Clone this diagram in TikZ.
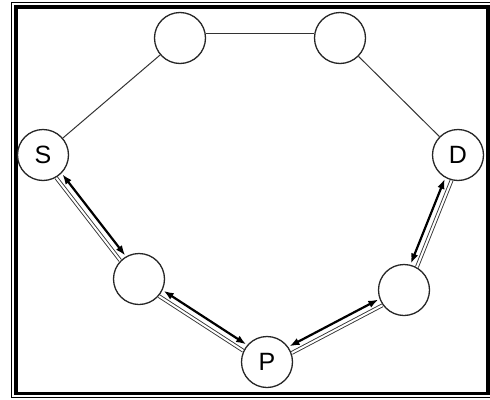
\documentclass[tikz,border=0pt]{standalone}
\usepackage{fontspec}
\setmainfont{Liberation Sans}
\usetikzlibrary{arrows.meta}
\begin{document}
\begin{tikzpicture}[x=1pt,y=-1pt,
  station/.style={circle,draw=black!85,line width=1.3pt,minimum size=51pt,inner sep=0pt,font=\fontsize{25}{25}\selectfont},
  link/.style={draw=black!80,line width=1pt},
  twoway/.style={line width=2.2pt,{Latex[length=10pt,width=7.5pt]}-{Latex[length=10pt,width=7.5pt]},shorten <=1pt,shorten >=1pt},
  hollow/.style={double=white,draw=black!80,line width=0.9pt,double distance=2pt}]
\useasboundingbox (0,0) rectangle (490,399);
% frame
\draw[line width=1.2pt] (11.8,2.6) rectangle (492,397.4);
\draw[line width=3.6pt] (15.8,7) rectangle (487.8,393.4);
% nodes
\node[station] (tl) at (180,38) {};
\node[station] (tr) at (340,38) {};
\node[station] (s) at (43,155) {S};
\node[station] (d) at (458,155) {D};
\node[station] (lb) at (139,279) {};
\node[station] (p) at (267,362) {P};
\node[station] (rb) at (404,290) {};
% plain links
\draw[link] (s) -- (tl);
\draw[link] (tl.10) -- (tr.170);
\draw[link] (tr) -- (d);
% paired links
\draw[twoway,transform canvas={shift={(2.8,-2.1)}}] (s) -- (lb);
\draw[hollow,transform canvas={shift={(-2.8,2.1)}}] (s) -- (lb);
\draw[twoway,transform canvas={shift={(1.9,-2.9)}}] (lb) -- (p);
\draw[hollow,transform canvas={shift={(-1.9,2.9)}}] (lb) -- (p);
\draw[twoway,transform canvas={shift={(-1.6,-3.1)}}] (p) -- (rb);
\draw[hollow,transform canvas={shift={(1.6,3.1)}}] (p) -- (rb);
\draw[twoway,transform canvas={shift={(-3.2,-1.3)}}] (rb) -- (d);
\draw[hollow,transform canvas={shift={(3.2,1.3)}}] (rb) -- (d);
\end{tikzpicture}
\end{document}
